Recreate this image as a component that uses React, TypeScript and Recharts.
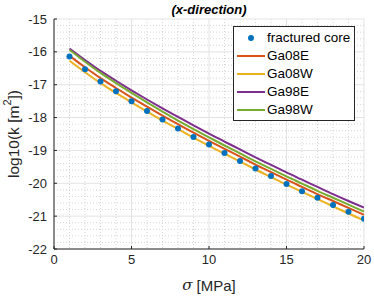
import React from 'react';
import { LineChart, Line, XAxis, YAxis, CartesianGrid } from 'recharts';

const sigmaValues = [1, 2, 3, 4, 5, 6, 7, 8, 9, 10, 11, 12, 13, 14, 15, 16, 17, 18, 19, 20];
const fracturedCore = [-16.14, -16.53, -16.9, -17.2, -17.5, -17.8, -18.06, -18.33, -18.59, -18.82, -19.08, -19.32, -19.55, -19.78, -20.02, -20.24, -20.44, -20.66, -20.87, -21.08];
const ga08E = [-16.12, -16.47, -16.8, -17.1, -17.39, -17.67, -17.94, -18.2, -18.46, -18.71, -18.95, -19.19, -19.43, -19.66, -19.89, -20.11, -20.33, -20.54, -20.75, -20.96];
const ga08W = [-16.27, -16.62, -16.95, -17.25, -17.54, -17.82, -18.09, -18.35, -18.61, -18.86, -19.1, -19.34, -19.58, -19.81, -20.04, -20.26, -20.48, -20.7, -20.92, -21.13];
const ga98E = [-15.9, -16.25, -16.58, -16.88, -17.17, -17.45, -17.72, -17.98, -18.24, -18.49, -18.73, -18.97, -19.21, -19.44, -19.67, -19.89, -20.11, -20.33, -20.54, -20.74];
const ga98W = [-15.94, -16.3, -16.64, -16.95, -17.25, -17.54, -17.82, -18.09, -18.35, -18.6, -18.85, -19.09, -19.33, -19.56, -19.79, -20.01, -20.23, -20.44, -20.65, -20.86];

const xTicks = [0, 5, 10, 15, 20];
const yTicks = [-22, -21, -20, -19, -18, -17, -16, -15];
const xMinor = [1, 2, 3, 4, 6, 7, 8, 9, 11, 12, 13, 14, 16, 17, 18, 19];
const yMinor: number[] = [];
for (let k = -22; k < -15; k++) {
  for (let j = 1; j <= 4; j++) yMinor.push(+(k + j * 0.2).toFixed(1));
}

const seriesNames = ['fractured core', 'Ga08E', 'Ga08W', 'Ga98E', 'Ga98W'];
const colors = ['#0072BD', '#D95319', '#EDB120', '#7E2F8E', '#77AC30'];

const data = sigmaValues.map((s, i) => ({
  sigma: s,
  core: fracturedCore[i],
  ga08E: ga08E[i],
  ga08W: ga08W[i],
  ga98E: ga98E[i],
  ga98W: ga98W[i],
}));

const FONT = '"Liberation Sans", Arial, Helvetica, sans-serif';
const AX = '#262626';

const EmptyTick = () => <g />;

const LegendBox = () => (
  <div
    style={{
      position: 'absolute',
      left: 233,
      top: 26,
      border: `1px solid ${AX}`,
      background: '#fff',
      width: 122,
      height: 95,
      boxSizing: 'border-box',
      paddingTop: 2,
      fontFamily: FONT,
      fontSize: 13.5,
      color: '#000',
    }}
  >
    {seriesNames.map((n, i) => (
      <div key={n} style={{ position: 'relative', height: 18, lineHeight: '18px' }}>
        <svg width={30} height={18} style={{ position: 'absolute', left: 2, top: 0 }}>
          {i === 0 ? (
            <circle cx={15} cy={9} r={3} fill={colors[0]} />
          ) : (
            <line x1={1} x2={29} y1={9} y2={9} stroke={colors[i]} strokeWidth={2} />
          )}
        </svg>
        <span style={{ position: 'absolute', left: 33, top: 0, whiteSpace: 'nowrap' }}>{n}</span>
      </div>
    ))}
  </div>
);

const YLabel = (props: any) => {
  const vb = props.viewBox || {};
  const cx = 13;
  const cy = (vb.y || 19) + (vb.height || 230) / 2;
  return (
    <text
      x={cx}
      y={cy}
      transform={`rotate(-90 ${cx} ${cy})`}
      textAnchor="middle"
      dominantBaseline="central"
      fontFamily={FONT}
      fontSize={15.5}
      fill={AX}
    >
      log10(k [m<tspan dy={-6} fontSize={11}>2</tspan>
      <tspan dy={6}>])</tspan>
    </text>
  );
};

const XLabel = (props: any) => {
  const vb = props.viewBox || {};
  const cx = (vb.x || 54) + (vb.width || 310) / 2;
  return (
    <text x={cx} y={285} textAnchor="middle" dominantBaseline="central" fontFamily={FONT} fontSize={15} fill={AX}>
      <tspan fontStyle="italic" fontFamily='"DejaVu Serif", "Liberation Serif", serif'>σ</tspan> [MPa]
    </text>
  );
};

export default function App() {
  return (
    <div style={{ position: 'absolute', left: 0, top: 0, width: 374, height: 298, background: '#fff' }}>
      <LineChart width={374} height={298} data={data} margin={{ top: 19, right: 10, bottom: 19, left: 14 }}>
        <text x={209} y={9} textAnchor="middle" dominantBaseline="central" fontFamily={FONT} fontSize={13} fontWeight="bold" fontStyle="italic" fill="#000">
          (x-direction)
        </text>
        <CartesianGrid
          horizontalValues={yMinor}
          verticalValues={xMinor}
          stroke="#d4d4d4"
          strokeDasharray="1 2"
          strokeWidth={1}
        />
        <CartesianGrid horizontalValues={yTicks} verticalValues={xTicks} stroke="#e3e3e3" strokeWidth={1} />
        <XAxis
          dataKey="sigma"
          type="number"
          domain={[0, 20]}
          ticks={xTicks}
          interval={0}
          allowDataOverflow
          height={30}
          tickSize={-3}
          tickMargin={9}
          stroke={AX}
          tick={{ fill: AX, fontSize: 13, fontFamily: FONT }}
          label={<XLabel />}
        />
        <XAxis
          xAxisId="top"
          orientation="top"
          dataKey="sigma"
          type="number"
          domain={[0, 20]}
          ticks={xTicks}
          interval={0}
          height={0}
          tickSize={-3}
          stroke={AX}
          tick={<EmptyTick />}
        />
        <YAxis
          type="number"
          domain={[-22, -15]}
          ticks={yTicks}
          interval={0}
          allowDataOverflow
          width={40}
          tickSize={-3}
          tickMargin={10}
          stroke={AX}
          tick={{ fill: AX, fontSize: 13, fontFamily: FONT }}
          label={<YLabel />}
        />
        <YAxis
          yAxisId="right"
          orientation="right"
          type="number"
          domain={[-22, -15]}
          ticks={yTicks}
          interval={0}
          width={0}
          tickSize={-3}
          stroke={AX}
          tick={<EmptyTick />}
        />
        <Line dataKey="ga08E" stroke={colors[1]} strokeWidth={2} dot={false} isAnimationActive={false} type="monotone" />
        <Line dataKey="ga08W" stroke={colors[2]} strokeWidth={2} dot={false} isAnimationActive={false} type="monotone" />
        <Line dataKey="ga98E" stroke={colors[3]} strokeWidth={2} dot={false} isAnimationActive={false} type="monotone" />
        <Line dataKey="ga98W" stroke={colors[4]} strokeWidth={2} dot={false} isAnimationActive={false} type="monotone" />
        <Line
          dataKey="core"
          stroke="none"
          strokeWidth={0}
          dot={{ r: 3, fill: colors[0], stroke: 'none' }}
          activeDot={false}
          isAnimationActive={false}
        />
      </LineChart>
      <LegendBox />
    </div>
  );
}
